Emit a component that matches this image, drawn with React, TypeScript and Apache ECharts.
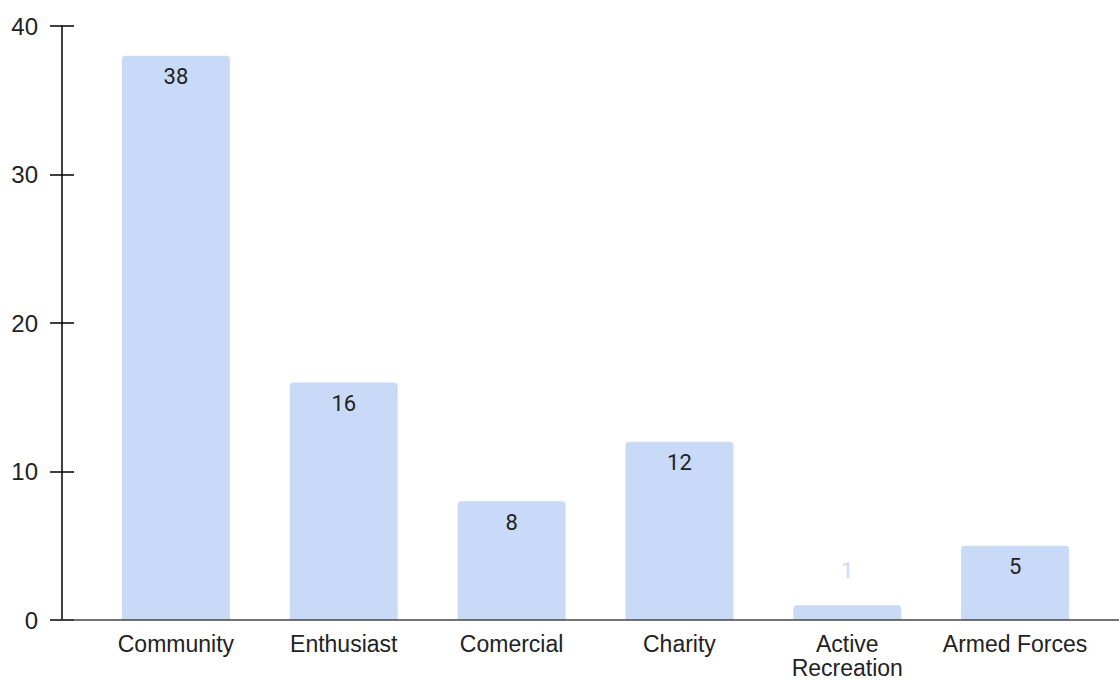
import React, { useEffect, useRef } from "react";
import * as echarts from "echarts";

const categories = ["Community", "Enthusiast", "Comercial", "Charity", "Active\nRecreation", "Armed Forces"];
const values = [38, 16, 8, 12, 1, 5];
const yTicks = [0, 10, 20, 30, 40];

const BAR = "#c9daf8";
const TEXT = "#222222";

export default function App() {
  const ref = useRef<HTMLDivElement>(null);
  useEffect(() => {
    document.body.style.margin = "0";
    document.body.style.overflow = "hidden";
    document.documentElement.style.overflow = "hidden";
    const chart = echarts.init(ref.current!, null, { renderer: "svg" });
    const data = values.map((v) =>
      v < 3
        ? { value: v, label: { position: "top", distance: 24, color: BAR } }
        : { value: v }
    );
    chart.setOption({
      animation: false,
      grid: { left: 92, right: 20, top: 26, bottom: 56, containLabel: false },
      xAxis: {
        type: "category",
        data: categories,
        axisLine: { show: false },
        axisTick: { show: false },
        axisLabel: {
          color: TEXT,
          fontFamily: "Liberation Sans, Arial, sans-serif",
          fontSize: 23,
          lineHeight: 24,
          margin: 12,
          interval: 0,
        },
      },
      yAxis: [
        {
          type: "value",
          min: yTicks[0],
          max: yTicks[yTicks.length - 1],
          interval: 10,
          offset: 30,
          splitLine: { show: false },
          axisLine: { show: true, lineStyle: { color: "#000", width: 1.5 } },
          axisTick: { show: false },
          axisLabel: {
            color: TEXT,
            fontFamily: "Liberation Sans, Arial, sans-serif",
            fontSize: 24,
            margin: 24,
          },
        },
        {
          type: "value",
          position: "left",
          min: yTicks[0],
          max: yTicks[yTicks.length - 1],
          interval: 10,
          offset: 18,
          splitLine: { show: false },
          axisLine: { show: false },
          axisTick: { show: true, length: 24, lineStyle: { color: "#000", width: 1.5 } },
          axisLabel: { show: false },
        },
      ],
      series: [
        {
          type: "bar",
          yAxisIndex: 0,
          data,
          barWidth: 108,
          itemStyle: { color: BAR, borderRadius: [4, 4, 0, 0] },
          label: {
            show: true,
            position: "insideTop",
            distance: 10,
            color: TEXT,
            fontFamily: "Roboto, sans-serif",
            fontSize: 22,
          },
        },
      ],
    });
    const y0 = chart.convertToPixel({ yAxisIndex: 0 }, 0) as number;
    chart.setOption({
      graphic: [
        {
          type: "line",
          shape: { x1: 50, y1: y0, x2: 1119, y2: y0 },
          style: { stroke: "#444", lineWidth: 1.5 },
          z: 10,
        },
      ],
    });
    return () => chart.dispose();
  }, []);
  return <div ref={ref} style={{ width: 1119, height: 680 }} />;
}
